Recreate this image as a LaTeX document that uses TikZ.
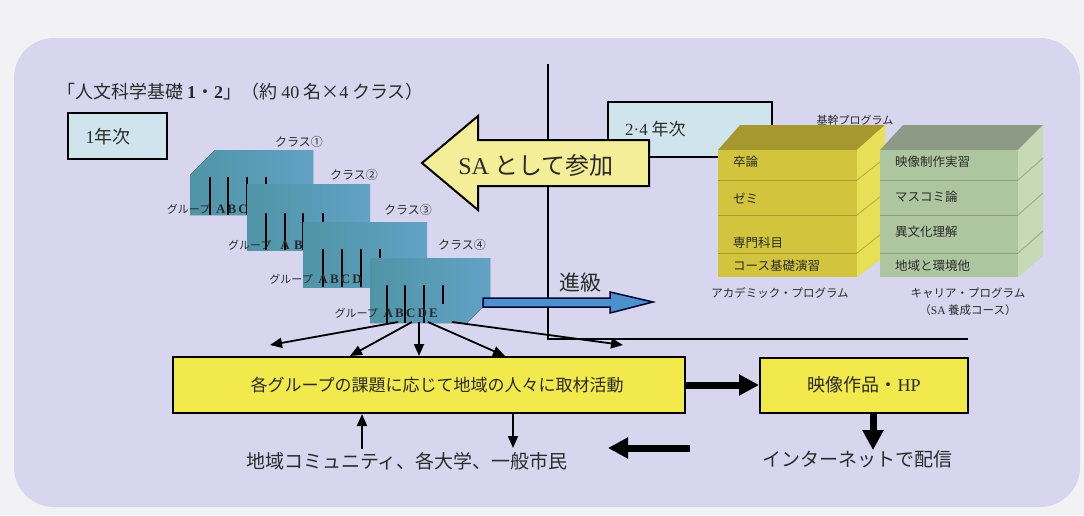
\documentclass[tikz,border=0pt]{standalone}
\usepackage{fontspec}
\setmainfont{Liberation Serif}
\newfontfamily\jp{Noto Sans CJK JP}
\usetikzlibrary{arrows.meta}
\newcommand{\myfs}[1]{\fontsize{#1}{#1}\selectfont}
\definecolor{outerbg}{HTML}{F2F1F3}
\definecolor{panel}{HTML}{D8D6EE}
\definecolor{lblue}{HTML}{CFE4EC}
\definecolor{saY}{HTML}{F4EE98}
\definecolor{boxY}{HTML}{F2E94C}
\definecolor{tealL}{HTML}{4F94A6}
\definecolor{tealR}{HTML}{62A2C6}
\definecolor{acF}{HTML}{D3C43E}
\definecolor{acT}{HTML}{A6982F}
\definecolor{acS}{HTML}{E7DF55}
\definecolor{caF}{HTML}{AEC6A0}
\definecolor{caT}{HTML}{8D9B86}
\definecolor{caS}{HTML}{C6DAB6}
\definecolor{arrB}{HTML}{4B91CD}
\definecolor{txtD}{HTML}{2A2A2A}
\tikzset{
  lbl/.style={font=\jp, inner sep=0pt, text=txtD},
  yearbox/.style={draw=black, line width=2pt, fill=lblue, inner sep=0pt},
  ybox/.style={draw=black, line width=2pt, fill=boxY, inner sep=0pt, font=\jp\myfs{17}, text=txtD},
  thinarr/.style={-{Triangle[length=12pt,width=10pt]}, line width=1.8pt, draw=black},
  thickarr/.style={-{Triangle[length=20pt,width=20pt]}, line width=7pt, draw=black},
  grpline/.style={line width=2pt, draw=black},
  blockfill/.style={left color=tealL, right color=tealR},
  rowline/.style={draw=black, opacity=0.2, line width=1pt},
}
\begin{document}
\begin{tikzpicture}[x=1pt,y=-1pt]
\useasboundingbox (0,0) rectangle (1084,515);
\fill[outerbg] (0,0) rectangle (1084,515);
\fill[panel, rounded corners=40pt] (14,38) rectangle (1080,507);

% title
\node[lbl, anchor=west, font=\jp\myfs{18}] (title) at (57,92) {「人文科学基礎 {\rmfamily\bfseries 1}・{\rmfamily\bfseries 2}」（約 {\rmfamily 40} 名×{\rmfamily 4} クラス）};

% year boxes
\node[yearbox, minimum width=99pt, minimum height=46pt] (y1) at (117,136) {};
\node[lbl, font=\jp\myfs{18}] (y1t) at (108,137) {{\rmfamily 1}年次};
\node[yearbox, minimum width=164pt, minimum height=55pt] (y24) at (690,129) {};
\node[lbl, font=\jp\myfs{17}, anchor=west] (y24t) at (625,129) {{\rmfamily 2·4} 年次};

% divider line
\coordinate (vtop) at (548,64);
\coordinate (corner) at (548,339);
\coordinate (hend) at (968,339);
\draw[line width=1.3pt] (vtop) -- (corner) -- (hend);

% class blocks
\fill[blockfill] (190,175) -- (215,150) -- (313,150) -- (313,215) -- (190,215) -- cycle;
\foreach \x in {210,228,247} \draw[grpline] (\x,177) -- (\x,215);
\draw[grpline] (266,177) -- (266,195);
\fill[blockfill] (247,184) -- (370,184) -- (370,250) -- (247,250) -- cycle;
\foreach \x in {266,285,303} \draw[grpline] (\x,213) -- (\x,250);
\draw[grpline] (323,213) -- (323,231);
\fill[blockfill] (303,222) -- (427,222) -- (427,287) -- (303,287) -- cycle;
\foreach \x in {323,342,361} \draw[grpline] (\x,249) -- (\x,287);
\draw[grpline] (380,249) -- (380,268);
\fill[blockfill] (370,258) -- (490,258) -- (490,300) -- (467,323) -- (370,323) -- cycle;
\foreach \x in {387,405,424} \draw[grpline] (\x,285) -- (\x,323);
\draw[grpline] (443,285) -- (443,304);

\node[lbl, font=\jp\myfs{12}] (k1) at (299,142) {クラス①};
\node[lbl, font=\jp\myfs{12}] (k2) at (354,175) {クラス②};
\node[lbl, font=\jp\myfs{12}] (k3) at (408,210) {クラス③};
\node[lbl, font=\jp\myfs{12}] (k4) at (462,245) {クラス④};
\node[lbl, font=\jp\myfs{11}, anchor=east] (g1) at (248,209) {グループ {\rmfamily\bfseries\myfs{13} A\,B\,C}};
\node[lbl, font=\jp\myfs{11}, anchor=east] (g2) at (303,245) {グループ {\rmfamily\bfseries\myfs{13} \ A\,\,B}};
\node[lbl, font=\jp\myfs{11}, anchor=east] (g3) at (362,279) {グループ {\rmfamily\bfseries\myfs{13} A\,B\,C\,D}};
\node[lbl, font=\jp\myfs{11}, anchor=east] (g4) at (438,313) {グループ {\rmfamily\bfseries\myfs{13} A\,B\,C\,D\,E}};

% SA arrow
\filldraw[fill=saY, draw=black, line width=2pt, line join=miter]
  (649,140) -- (478,140) -- (478,116) -- (422,163) -- (478,210) -- (478,186) -- (649,186) -- cycle;
\node[lbl, font=\jp\myfs{24}] (sa) at (536,165) {{\rmfamily SA} として参加};

% promotion arrow
\filldraw[fill=arrB, draw=black!80!blue, line width=1.5pt, line join=miter]
  (483,298) -- (610,298) -- (610,292) -- (653,302) -- (610,313) -- (610,307) -- (483,307) -- cycle;
\node[lbl, font=\jp\myfs{21}] (shin) at (580,283) {進級};

% academic 3D box
\fill[acT] (718,150) -- (740,125) -- (885,125) -- (857,150) -- cycle;
\fill[acS] (857,150) -- (885,125) -- (885,256) -- (857,277) -- cycle;
\fill[acF] (718,150) rectangle (857,277);
\foreach \y in {180,215,253} {\draw[rowline] (718,\y) -- (857,\y); \draw[rowline] (857,\y) -- (885,\y-22);}
% career 3D box
\fill[caT] (880,150) -- (903,125) -- (1043,125) -- (1018,150) -- cycle;
\fill[caS] (1018,150) -- (1043,125) -- (1043,256) -- (1018,277) -- cycle;
\fill[caF] (880,150) rectangle (1018,277);
\foreach \y in {180,215,253} {\draw[rowline] (880,\y) -- (1018,\y); \draw[rowline] (1018,\y) -- (1043,\y-22);}

\node[lbl, font=\jp\myfs{11}] (kikan) at (855,120) {基幹プログラム};
\node[lbl, font=\jp\myfs{12.5}, anchor=west] (a1) at (733,162) {卒論};
\node[lbl, font=\jp\myfs{12.5}, anchor=west] (a2) at (733,198) {ゼミ};
\node[lbl, font=\jp\myfs{12.5}, anchor=west] (a3) at (733,243) {専門科目};
\node[lbl, font=\jp\myfs{12.5}, anchor=west] (a4) at (733,266) {コース基礎演習};
\node[lbl, font=\jp\myfs{12.5}, anchor=west] (c1) at (895,162) {映像制作実習};
\node[lbl, font=\jp\myfs{12.5}, anchor=west] (c2) at (895,197) {マスコミ論};
\node[lbl, font=\jp\myfs{12.5}, anchor=west] (c3) at (895,232) {異文化理解};
\node[lbl, font=\jp\myfs{12.5}, anchor=west] (c4) at (895,266) {地域と環境他};
\node[lbl, font=\jp\myfs{11.5}] (acad) at (780,293) {アカデミック・プログラム};
\node[lbl, font=\jp\myfs{11.5}] (car) at (968,293) {キャリア・プログラム};
\node[lbl, font=\jp\myfs{11.5}] (car2) at (968,310) {（{\rmfamily SA} 養成コース）};

% activity boxes
\node[ybox, minimum width=512pt, minimum height=56pt] (act) at (429,385) {\hspace*{16pt}各グループの課題に応じて地域の人々に取材活動};
\node[ybox, minimum width=208pt, minimum height=55pt, font=\jp\myfs{18}] (hp) at (864,385) {映像作品・{\rmfamily HP}};
\draw[thickarr] (act.east) -- (hp.west);

\node[lbl, font=\jp\myfs{19}] (comm) at (407,461) {地域コミュニティ、各大学、一般市民};
\node[lbl, font=\jp\myfs{19}] (net) at (857,459) {インターネットで配信};
\draw[thickarr] ([xshift=9pt]hp.south) -- ([xshift=9pt]hp.south |- net.north);
\coordinate (la1) at (690,448);
\coordinate (la2) at (608,448);
\draw[thickarr] (la1) -- (la2);

\coordinate (up1) at (362,449);
\draw[thinarr] (up1) -- (up1 |- act.south);
\coordinate (dn1) at (513,448);
\draw[thinarr] (dn1 |- act.south) -- (dn1);

% fan arrows from class 4
\coordinate (s1) at (398,322);
\coordinate (s2) at (412,322);
\coordinate (s3) at (419,322);
\coordinate (s4) at (428,322);
\coordinate (s5) at (452,322);
\coordinate (e1) at (270,345);
\coordinate (e5) at (623,345);
\draw[thinarr] (s1) -- (e1);
\draw[thinarr] (s2) -- (act.north -| 350,0);
\draw[thinarr] (s3) -- (act.north -| 419,0);
\draw[thinarr] (s4) -- (act.north -| 505,0);
\draw[thinarr] (s5) -- (e5);
\end{tikzpicture}
\end{document}
